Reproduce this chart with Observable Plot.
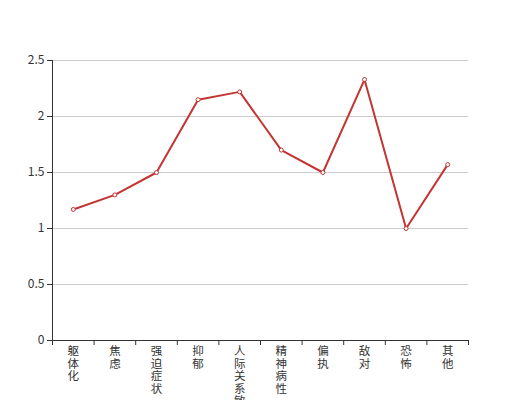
<!DOCTYPE html>
<html><head><meta charset="utf-8">
<script src="https://cdn.jsdelivr.net/npm/d3@7"></script>
<script src="https://cdn.jsdelivr.net/npm/@observablehq/plot@0.6"></script>
<style>body{margin:0;background:#fff}</style></head>
<body><div id="chart"></div>
<script>
const categories = ["躯体化","焦虑","强迫症状","抑郁","人际关系敏感","精神病性","偏执","敌对","恐怖","其他"];
const values = [1.17,1.30,1.50,2.15,2.22,1.70,1.50,2.33,1.00,1.57];
const yTicks = [0,0.5,1,1.5,2,2.5];

const n = categories.length;
const data = categories.map((c,i)=>({c, i, v: values[i]}));
const centers = d3.range(n).map(i=>i+0.5);
const bounds = d3.range(n+1);

const chart = Plot.plot({
  width:520, height:400,
  marginLeft:52, marginRight:52, marginTop:60, marginBottom:60,
  style:{fontFamily:'"Noto Sans CJK SC", sans-serif', fontSize:"12px", background:"#fff", color:"#333"},
  x:{type:"linear", domain:[0,n]},
  y:{domain:[0,2.5]},
  marks:[
    Plot.gridY(yTicks.filter(t=>t>0), {stroke:"#ccc", strokeOpacity:1}),
    Plot.axisY({ticks:yTicks, tickSize:5, tickPadding:3, tickFormat:d=>String(d), label:null, stroke:"#333", fill:"#333"}),
    Plot.axisX(bounds, {tickSize:5, tickFormat:()=>"", label:null, stroke:"#333"}),
    Plot.axisX(centers, {tickSize:0, tickPadding:6, lineHeight:1.08, fontSize:11.5, tickFormat:t=>categories[Math.floor(t)].split("").join("\n"), label:null, fill:"#333"}),
    Plot.ruleX([0], {stroke:"#333"}),
    Plot.ruleY([0], {stroke:"#333"}),
    Plot.line(data, {x:d=>d.i+0.5, y:"v", stroke:"#c23531", strokeWidth:2}),
    Plot.dot(data, {x:d=>d.i+0.5, y:"v", r:2, fill:"white", stroke:"#c23531", strokeWidth:1})
  ]
});
document.getElementById("chart").appendChild(chart);
</script>
</body></html>
